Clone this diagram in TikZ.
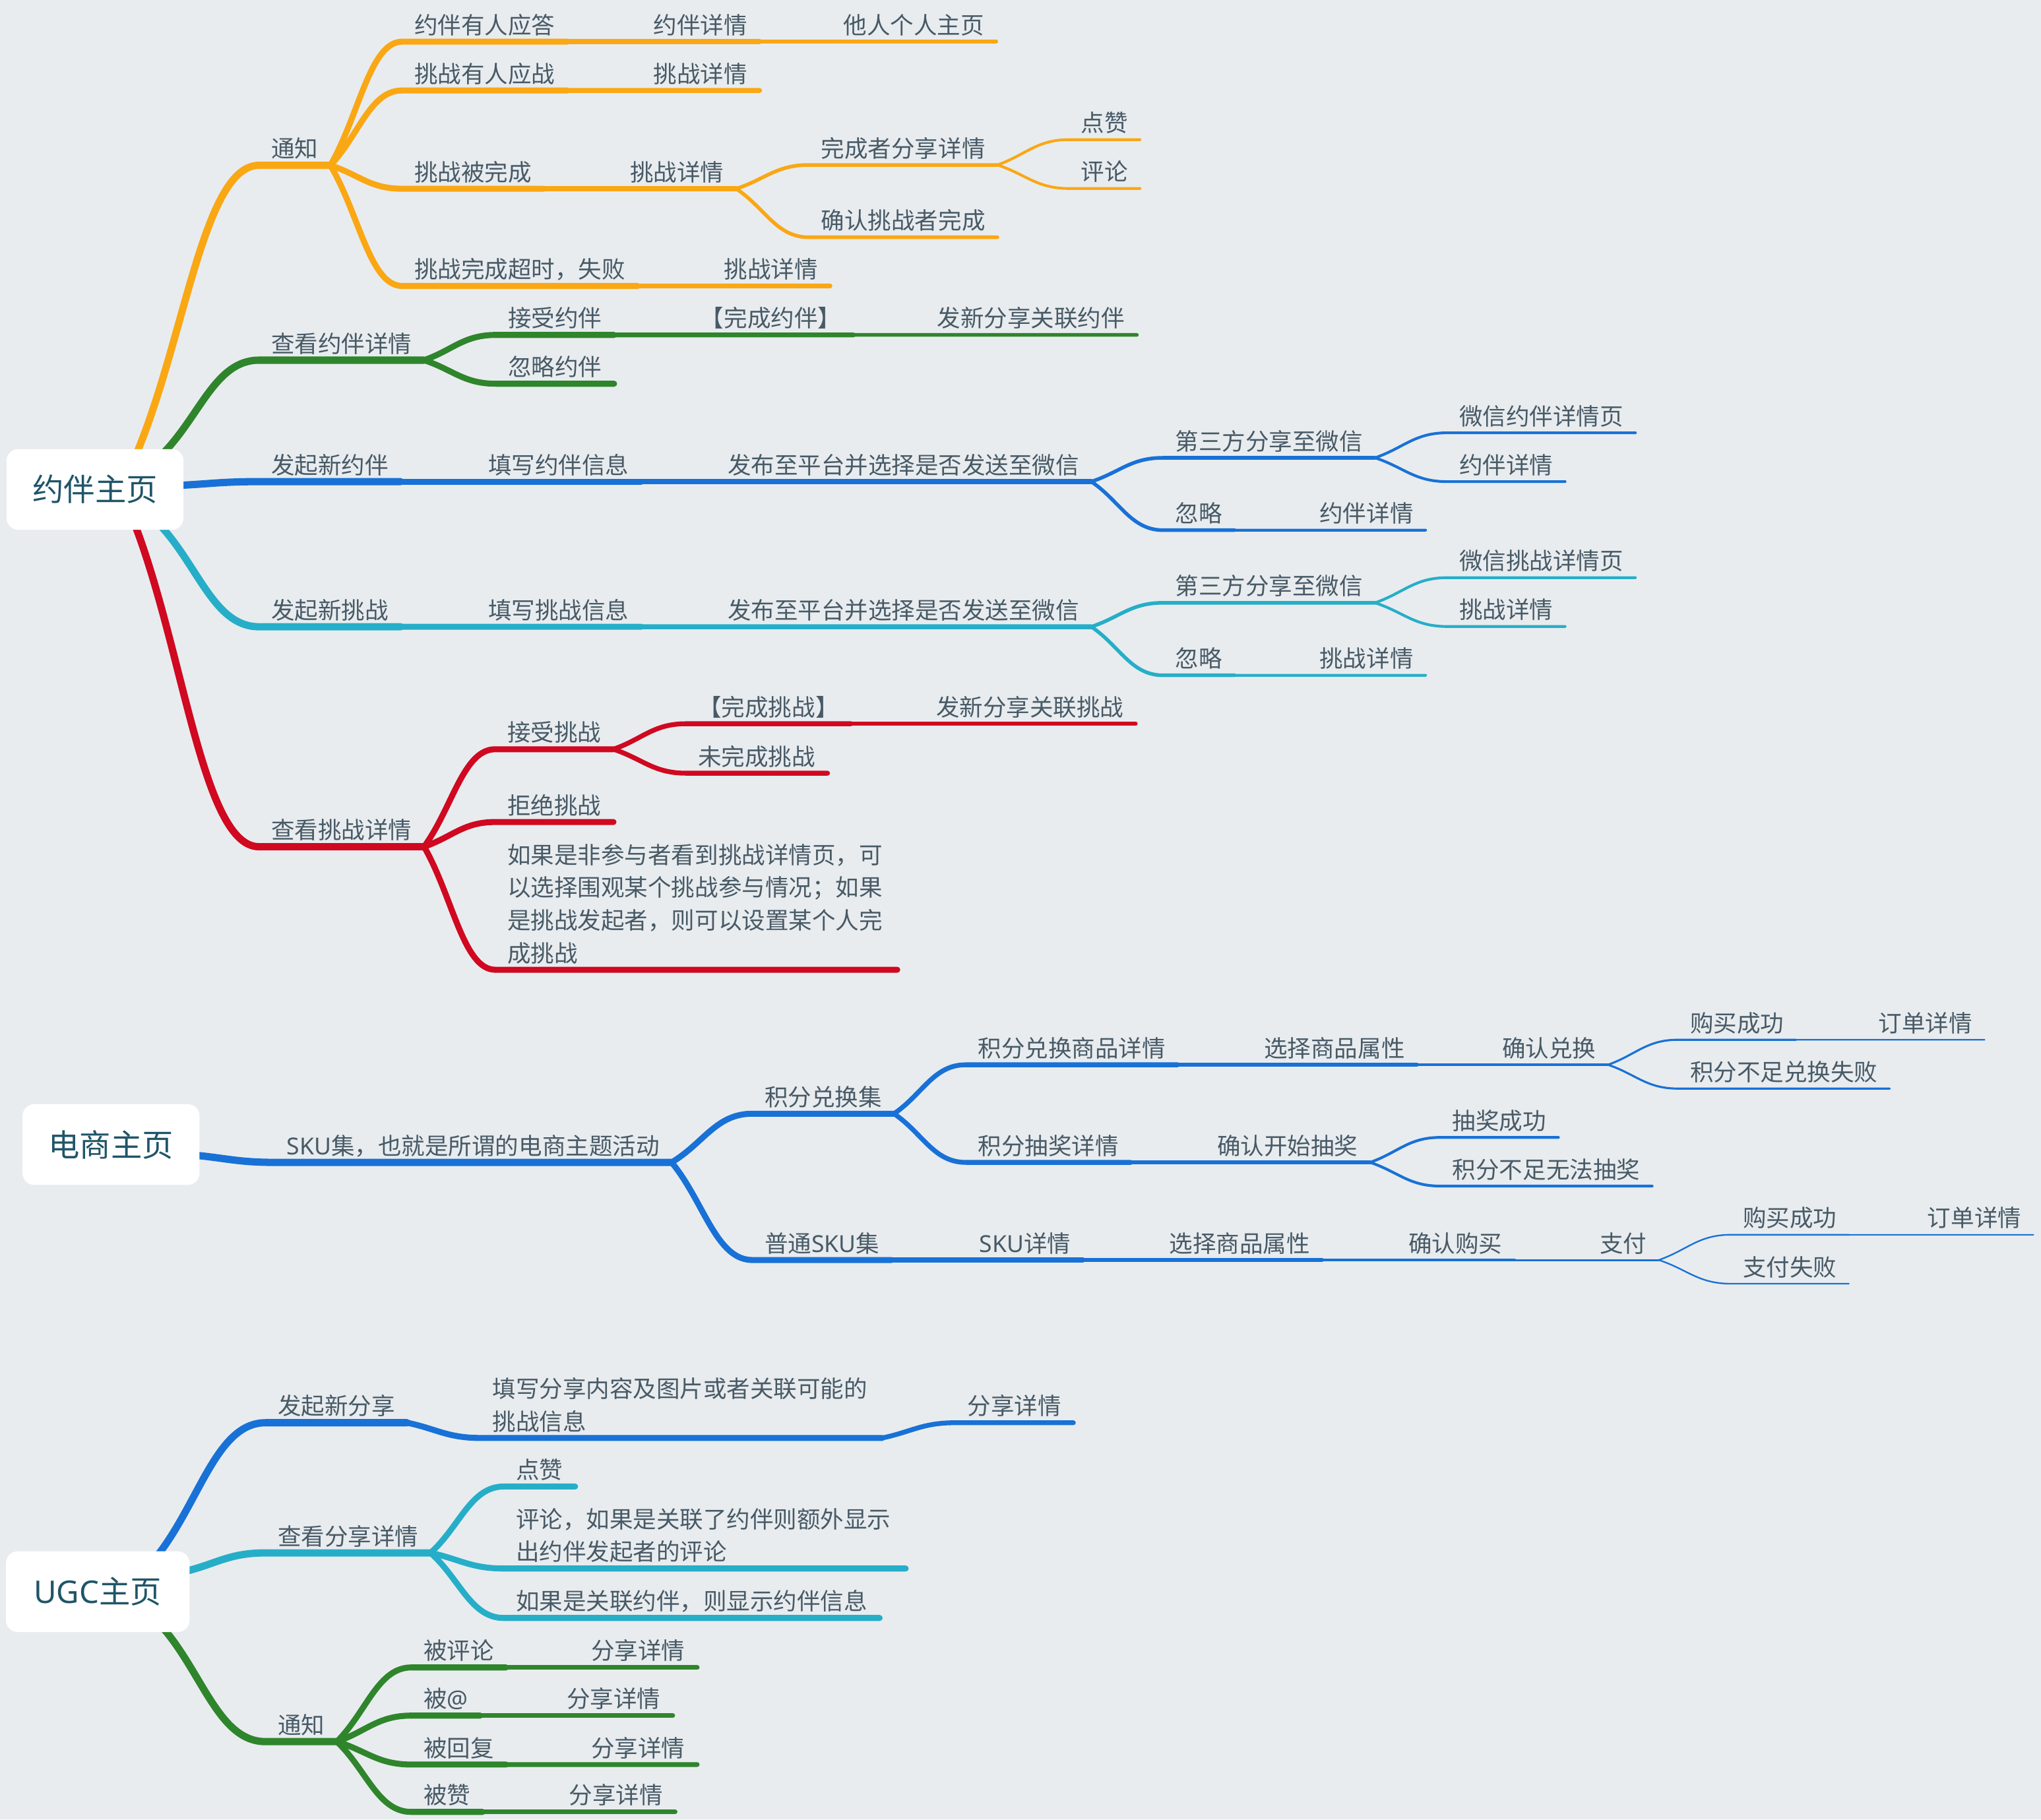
\documentclass[tikz,border=0pt]{standalone}
\usepackage{fontspec}
\setmainfont{Noto Sans CJK SC}
\newfontfamily\latinf{Noto Sans}
\usetikzlibrary{calc,backgrounds}

\definecolor{bgc}{HTML}{E8ECEF}
\definecolor{txt}{HTML}{485A66}
\definecolor{roottxt}{HTML}{1F5568}
\definecolor{orng}{HTML}{FAA714}
\definecolor{grn}{HTML}{2F852B}
\definecolor{blu}{HTML}{1871D6}
\definecolor{cyn}{HTML}{26AEC8}
\definecolor{rd}{HTML}{D00820}

% multi-line topic text, baseline on the last line
\newcommand{\mltext}[1]{\parbox[b]{145pt}{\raggedright #1}}
% branch: curve from the end of the parent's underline, then the child's underline
\newcommand{\lnk}[3]{\draw[ln,#1] (#2.south east) to[lk] (#3.south west) -- (#3.south east);}

\begin{document}
\begin{tikzpicture}[x=0.5pt,y=-0.5pt,
  lbl/.style={anchor=south west, inner xsep=4.5pt, inner ysep=0pt,
    text height=7pt, text depth=2.8pt, text=txt,
    font=\fontsize{9pt}{12.6pt}\selectfont},
  root/.style={fill=white, rounded corners=4.5pt, minimum width=68pt,
    minimum height=31pt, inner sep=0pt, text=roottxt,
    font=\fontsize{12pt}{14pt}\selectfont},
  ln/.style={line cap=round, line join=round},
  lk/.style={to path={let \p1=(\tikztostart), \p2=(\tikztotarget) in
    .. controls ($(\p1)!0.4!(\p2)$) and ({\x1+0.55*(\x2-\x1)},{\y2}) .. (\p2)}},
  w1/.style={line width=2.8pt},
  w2/.style={line width=2.3pt},
  w3/.style={line width=1.85pt},
  w4/.style={line width=1.4pt},
  w5/.style={line width=1.05pt},
  w6/.style={line width=0.8pt},
  w7/.style={line width=0.6pt},
  w8/.style={line width=0.5pt}]

\useasboundingbox (0,0) rectangle (1568,1397.72);

% ---------- roots ----------
\node[root] (r1) at (73,376) {约伴主页};
\node[root] (r2) at (85.3,879.3) {电商主页};
\node[root, minimum width=70.5pt] (r3) at (75.1,1222.8) {{\latinf UGC}主页};

% ---------- 约伴主页 ----------
\node[lbl] (A1) at (199,127) {通知};
\node[lbl] (A11) at (309,32) {约伴有人应答};
\node[lbl] (A111) at ($(A11.south east)+(57,0)$) {约伴详情};
\node[lbl] (A1111) at ($(A111.south east)+(55,0)$) {他人个人主页};
\node[lbl] (A12) at (309,69.5) {挑战有人应战};
\node[lbl] (A121) at ($(A12.south east)+(57,0)$) {挑战详情};
\node[lbl] (A13) at (309,145) {挑战被完成};
\node[lbl] (A131) at ($(A13.south east)+(57,0)$) {挑战详情};
\node[lbl] (A1311) at (621.5,126.7) {完成者分享详情};
\node[lbl] (A13111) at (821,107.3) {点赞};
\node[lbl] (A13112) at (821,144.8) {评论};
\node[lbl] (A1312) at (621.5,182.3) {确认挑战者完成};
\node[lbl] (A14) at (309,219.7) {挑战完成超时，失败};
\node[lbl] (A141) at ($(A14.south east)+(57,0)$) {挑战详情};

\node[lbl] (A2) at (199,276.7) {查看约伴详情};
\node[lbl] (A21) at (381,257.3) {接受约伴};
\node[lbl] (A211) at ($(A21.south east)+(57,0)$) {【完成约伴】};
\node[lbl] (A2111) at ($(A211.south east)+(55,0)$) {发新分享关联约伴};
\node[lbl] (A22) at (381,294.8) {忽略约伴};

\node[lbl] (A3) at (199,370) {发起新约伴};
\node[lbl] (A31) at ($(A3.south east)+(58,0)$) {填写约伴信息};
\node[lbl] (A311) at ($(A31.south east)+(57,0)$) {发布至平台并选择是否发送至微信};
\node[lbl] (A3111) at (893.6,351.7) {第三方分享至微信};
\node[lbl] (A31111) at (1111.6,332.5) {微信约伴详情页};
\node[lbl] (A31112) at (1111.6,370) {约伴详情};
\node[lbl] (A3112) at (893.6,407.3) {忽略};
\node[lbl] (A31121) at ($(A3112.south east)+(56,0)$) {约伴详情};

\node[lbl] (A4) at (199,481.5) {发起新挑战};
\node[lbl] (A41) at ($(A4.south east)+(58,0)$) {填写挑战信息};
\node[lbl] (A411) at ($(A41.south east)+(57,0)$) {发布至平台并选择是否发送至微信};
\node[lbl] (A4111) at (893.6,463.1) {第三方分享至微信};
\node[lbl] (A41111) at (1111.6,443.8) {微信挑战详情页};
\node[lbl] (A41112) at (1111.6,481.3) {挑战详情};
\node[lbl] (A4112) at (893.6,518.8) {忽略};
\node[lbl] (A41121) at ($(A4112.south east)+(56,0)$) {挑战详情};

\node[lbl] (A5) at (199,650.5) {查看挑战详情};
\node[lbl] (A51) at (380.5,575.6) {接受挑战};
\node[lbl] (A511) at (527,556) {【完成挑战】};
\node[lbl] (A5111) at ($(A511.south east)+(56,0)$) {发新分享关联挑战};
\node[lbl] (A512) at (527,594) {未完成挑战};
\node[lbl] (A52) at (380.5,631.5) {拒绝挑战};
\node[lbl] (A53) at (380.5,745) {\mltext{如果是非参与者看到挑战详情页，可\\以选择围观某个挑战参与情况；如果\\是挑战发起者，则可以设置某个人完\\成挑战}};

% ---------- 电商主页 ----------
\node[lbl] (B1) at (211,893) {{\latinf SKU}集，也就是所谓的电商主题活动};
\node[lbl] (B11) at (578,855.6) {积分兑换集};
\node[lbl] (B111) at (742,818) {积分兑换商品详情};
\node[lbl] (B1111) at ($(B111.south east)+(57,0)$) {选择商品属性};
\node[lbl] (B11111) at ($(B1111.south east)+(56,0)$) {确认兑换};
\node[lbl] (B111111) at (1289,798.8) {购买成功};
\node[lbl] (B1111111) at ($(B111111.south east)+(54,0)$) {订单详情};
\node[lbl] (B111112) at (1289,836.3) {积分不足兑换失败};
\node[lbl] (B112) at (742,893) {积分抽奖详情};
\node[lbl] (B1121) at ($(B112.south east)+(57,0)$) {确认开始抽奖};
\node[lbl] (B11211) at (1106.5,873.8) {抽奖成功};
\node[lbl] (B11212) at (1106.5,911.2) {积分不足无法抽奖};
\node[lbl] (B12) at (578,968) {普通{\latinf SKU}集};
\node[lbl] (B121) at ($(B12.south east)+(58,0)$) {{\latinf SKU}详情};
\node[lbl] (B1211) at ($(B121.south east)+(57,0)$) {选择商品属性};
\node[lbl] (B12111) at ($(B1211.south east)+(57,0)$) {确认购买};
\node[lbl] (B121111) at ($(B12111.south east)+(56,0)$) {支付};
\node[lbl] (B1211111) at (1329.6,948.6) {购买成功};
\node[lbl] (B12111111) at ($(B1211111.south east)+(51,0)$) {订单详情};
\node[lbl] (B1211112) at (1329.6,986.2) {支付失败};

% ---------- UGC主页 ----------
\node[lbl] (C1) at (204,1093) {发起新分享};
\node[lbl] (C11) at (369,1104.7) {\mltext{填写分享内容及图片或者关联可能的\\挑战信息}};
\node[lbl] (C111) at ($(C11.south east)+(56,-11.7)$) {分享详情};
\node[lbl] (C2) at (204,1193) {查看分享详情};
\node[lbl] (C21) at (387,1142) {点赞};
\node[lbl] (C22) at (387,1205) {\mltext{评论，如果是关联了约伴则额外显示\\出约伴发起者的评论}};
\node[lbl] (C23) at (387,1243) {如果是关联约伴，则显示约伴信息};
\node[lbl] (C3) at (204,1338) {通知};
\node[lbl] (C31) at (316,1281) {被评论};
\node[lbl] (C311) at ($(C31.south east)+(56,0)$) {分享详情};
\node[lbl] (C32) at (316,1318) {被{\latinf @}};
\node[lbl] (C321) at ($(C32.south east)+(57,0)$) {分享详情};
\node[lbl] (C33) at (316,1355.6) {被回复};
\node[lbl] (C331) at ($(C33.south east)+(56,0)$) {分享详情};
\node[lbl] (C34) at (316,1392) {被赞};
\node[lbl] (C341) at ($(C34.south east)+(57,0)$) {分享详情};

\begin{pgfonlayer}{background}
\fill[bgc] (0,0) rectangle (1568,1397.72);

% branches leaving the roots
\draw[ln,orng,w1] ($(r1.north)+(31,6)$) to[lk] (A1.south west) -- (A1.south east);
\draw[ln,grn,w1] ($(r1.north)+(50,6)$) to[lk] (A2.south west) -- (A2.south east);
\draw[ln,blu,w1] ($(r1.east)+(-6,-3)$) to[lk] (A3.south west) -- (A3.south east);
\draw[ln,cyn,w1] ($(r1.south)+(48,-6)$) to[lk] (A4.south west) -- (A4.south east);
\draw[ln,rd,w1] ($(r1.south)+(30,-6)$) to[lk] (A5.south west) -- (A5.south east);
\draw[ln,blu,w1] ($(r2.east)+(-6,8)$) to[lk] (B1.south west) -- (B1.south east);
\draw[ln,blu,w1] ($(r3.north)+(44,6)$) to[lk] (C1.south west) -- (C1.south east);
\draw[ln,cyn,w1] ($(r3.east)+(-6,-15)$) to[lk] (C2.south west) -- (C2.south east);
\draw[ln,grn,w1] ($(r3.south)+(48,-6)$) to[lk] (C3.south west) -- (C3.south east);

% 通知
\lnk{orng,w2}{A1}{A11}
\lnk{orng,w3}{A11}{A111}
\lnk{orng,w4}{A111}{A1111}
\lnk{orng,w2}{A1}{A12}
\lnk{orng,w3}{A12}{A121}
\lnk{orng,w2}{A1}{A13}
\lnk{orng,w3}{A13}{A131}
\lnk{orng,w4}{A131}{A1311}
\lnk{orng,w5}{A1311}{A13111}
\lnk{orng,w5}{A1311}{A13112}
\lnk{orng,w4}{A131}{A1312}
\lnk{orng,w2}{A1}{A14}
\lnk{orng,w3}{A14}{A141}

% 查看约伴详情
\lnk{grn,w2}{A2}{A21}
\lnk{grn,w3}{A21}{A211}
\lnk{grn,w4}{A211}{A2111}
\lnk{grn,w2}{A2}{A22}

% 发起新约伴
\lnk{blu,w2}{A3}{A31}
\lnk{blu,w3}{A31}{A311}
\lnk{blu,w4}{A311}{A3111}
\lnk{blu,w5}{A3111}{A31111}
\lnk{blu,w5}{A3111}{A31112}
\lnk{blu,w4}{A311}{A3112}
\lnk{blu,w5}{A3112}{A31121}

% 发起新挑战
\lnk{cyn,w2}{A4}{A41}
\lnk{cyn,w3}{A41}{A411}
\lnk{cyn,w4}{A411}{A4111}
\lnk{cyn,w5}{A4111}{A41111}
\lnk{cyn,w5}{A4111}{A41112}
\lnk{cyn,w4}{A411}{A4112}
\lnk{cyn,w5}{A4112}{A41121}

% 查看挑战详情
\lnk{rd,w2}{A5}{A51}
\lnk{rd,w3}{A51}{A511}
\lnk{rd,w4}{A511}{A5111}
\lnk{rd,w3}{A51}{A512}
\lnk{rd,w2}{A5}{A52}
\lnk{rd,w2}{A5}{A53}

% 电商
\lnk{blu,w2}{B1}{B11}
\lnk{blu,w3}{B11}{B111}
\lnk{blu,w4}{B111}{B1111}
\lnk{blu,w5}{B1111}{B11111}
\lnk{blu,w6}{B11111}{B111111}
\lnk{blu,w7}{B111111}{B1111111}
\lnk{blu,w6}{B11111}{B111112}
\lnk{blu,w3}{B11}{B112}
\lnk{blu,w4}{B112}{B1121}
\lnk{blu,w5}{B1121}{B11211}
\lnk{blu,w5}{B1121}{B11212}
\lnk{blu,w2}{B1}{B12}
\lnk{blu,w3}{B12}{B121}
\lnk{blu,w4}{B121}{B1211}
\lnk{blu,w5}{B1211}{B12111}
\lnk{blu,w6}{B12111}{B121111}
\lnk{blu,w7}{B121111}{B1211111}
\lnk{blu,w8}{B1211111}{B12111111}
\lnk{blu,w7}{B121111}{B1211112}

% UGC
\lnk{blu,w2}{C1}{C11}
\lnk{blu,w3}{C11}{C111}
\lnk{cyn,w2}{C2}{C21}
\lnk{cyn,w2}{C2}{C22}
\lnk{cyn,w2}{C2}{C23}
\lnk{grn,w2}{C3}{C31}
\lnk{grn,w3}{C31}{C311}
\lnk{grn,w2}{C3}{C32}
\lnk{grn,w3}{C32}{C321}
\lnk{grn,w2}{C3}{C33}
\lnk{grn,w3}{C33}{C331}
\lnk{grn,w2}{C3}{C34}
\lnk{grn,w3}{C34}{C341}
\end{pgfonlayer}
\end{tikzpicture}
\end{document}
